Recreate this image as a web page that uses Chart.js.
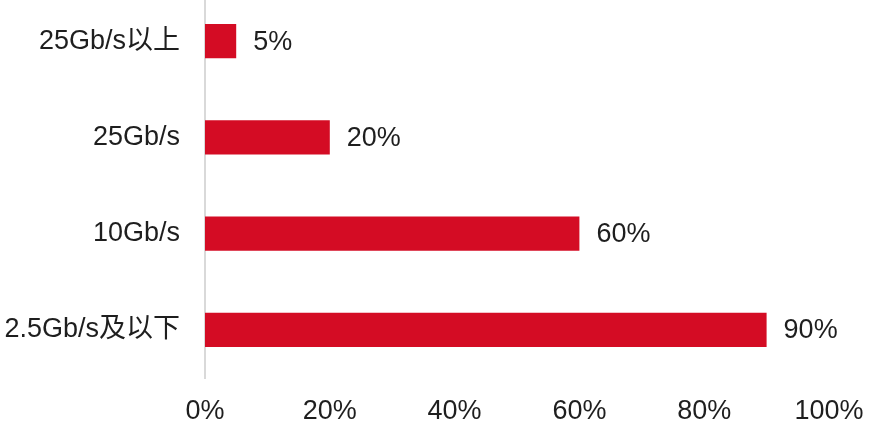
<!DOCTYPE html>
<html>
<head>
<meta charset="utf-8">
<script src="https://cdn.jsdelivr.net/npm/chart.js@4"></script>
<style>
  html, body { margin: 0; padding: 0; background: #ffffff; overflow: hidden; }
  #wrap { width: 876px; height: 434px; overflow: hidden; }
  #c { display: block; margin-top: -7px; }
</style>
</head>
<body>
<div id="wrap"><canvas id="c" width="876" height="441"></canvas></div>
<script>
const categories = ['25Gb/s以上', '25Gb/s', '10Gb/s', '2.5Gb/s及以下'];
const shareValues = [5, 20, 60, 90];
const xTickValues = [0, 20, 40, 60, 80, 100];

const FONT = '"Liberation Sans", Arial, "Noto Sans CJK SC", sans-serif';
const TEXT = '#1e1e1e';
const BAR = '#d40c24';
const FS = 27;

const valueLabels = {
  id: 'valueLabels',
  afterDatasetsDraw(chart) {
    const ctx = chart.ctx;
    const meta = chart.getDatasetMeta(0);
    ctx.save();
    ctx.font = FS + 'px ' + FONT;
    ctx.fillStyle = TEXT;
    ctx.textAlign = 'left';
    ctx.textBaseline = 'middle';
    meta.data.forEach((el, i) => {
      ctx.fillText(shareValues[i] + '%', el.x + 17, el.y + 1);
    });
    ctx.restore();
  }
};

new Chart(document.getElementById('c'), {
  type: 'bar',
  data: {
    labels: categories,
    datasets: [{
      data: shareValues,
      backgroundColor: BAR,
      borderWidth: 0,
      categoryPercentage: 1,
      barPercentage: 0.355
    }]
  },
  options: {
    indexAxis: 'y',
    responsive: false,
    animation: false,
    layout: { padding: { top: 0, right: 47, bottom: 0, left: 0 } },
    plugins: { legend: { display: false }, tooltip: { enabled: false } },
    scales: {
      x: {
        min: 0, max: 100,
        afterBuildTicks(scale) { scale.ticks = xTickValues.map(v => ({ value: v })); },
        afterFit(scale) { scale.height = 56; scale.paddingLeft = 0; scale.paddingRight = 0; },
        grid: { display: false, drawTicks: false },
        border: { display: false },
        ticks: {
          padding: 17,
          maxRotation: 0,
          color: TEXT,
          font: { size: FS, family: FONT },
          callback: v => v + '%'
        }
      },
      y: {
        afterFit(scale) { scale.width = 205; scale.paddingTop = 0; scale.paddingBottom = 0; },
        grid: { display: false, drawTicks: false },
        border: { display: true, color: '#d9d9d9', width: 2 },
        ticks: {
          padding: 25,
          color: TEXT,
          font: { size: FS, family: FONT }
        }
      }
    }
  },
  plugins: [valueLabels]
});
</script>
</body>
</html>
